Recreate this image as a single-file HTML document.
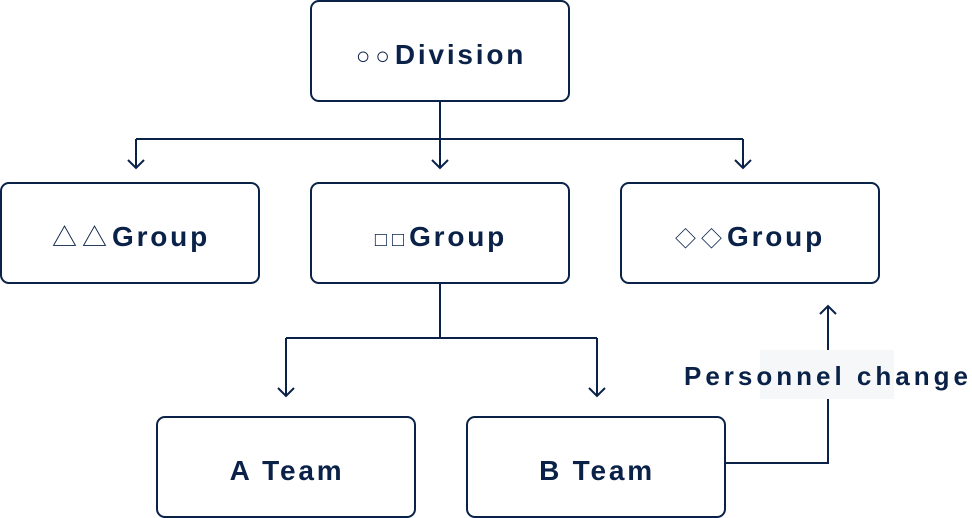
<!DOCTYPE html>
<html><head><meta charset="utf-8"><style>
html,body{margin:0;padding:0;background:#fff;}
svg{display:block;}
text{font-family:"Liberation Sans","Noto Sans CJK JP",sans-serif;font-weight:bold;fill:#0a2248;letter-spacing:2.8px;}
.s{font-weight:normal;letter-spacing:5px;}
</style></head><body>
<svg width="972" height="518" viewBox="0 0 972 518" xmlns="http://www.w3.org/2000/svg">
<g fill="none" stroke="#0a2248" stroke-width="2">
<rect x="311" y="1" width="258" height="100" rx="8"/>
<rect x="1" y="183" width="258" height="100" rx="8"/>
<rect x="311" y="183" width="258" height="100" rx="8"/>
<rect x="621" y="183" width="258" height="100" rx="8"/>
<rect x="157" y="417" width="258" height="100" rx="8"/>
<rect x="467" y="417" width="258" height="100" rx="8"/>
<path d="M440 101V168M136 139H743M136 139V168M743 139V168"/>
<path d="M128 160L136 168L144 160M432 160L440 168L448 160M735 160L743 168L751 160"/>
<path d="M440 283V338M286 338H597M286 338V396M597 338V396"/>
<path d="M278 388L286 396L294 388M589 388L597 396L605 388"/>
<path d="M725 463H828V306M820 314L828 306L836 314"/>
</g>
<rect x="760" y="350" width="134" height="49" fill="#f5f7f9"/>
<text x="684" y="385" font-size="26" style="letter-spacing:4px">Personnel change</text>
<text x="441" y="64" font-size="28" text-anchor="middle"><tspan class="s" font-size="24">○○</tspan>Division</text>
<text x="131" y="246" font-size="28" text-anchor="middle"><tspan class="s" font-size="25">△△</tspan>Group</text>
<text x="441" y="246" font-size="28" text-anchor="middle"><tspan class="s" font-size="20">□□</tspan>Group</text>
<text x="750" y="246" font-size="28" text-anchor="middle"><tspan class="s" font-size="21">◇◇</tspan>Group</text>
<text x="287" y="480" font-size="28" text-anchor="middle">A Team</text>
<text x="597" y="480" font-size="28" text-anchor="middle">B Team</text>
</svg>
</body></html>
